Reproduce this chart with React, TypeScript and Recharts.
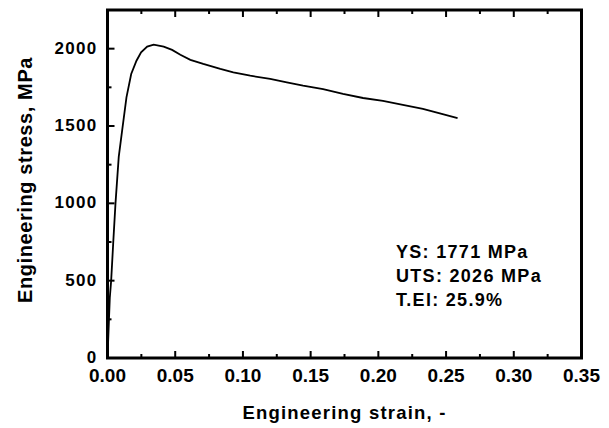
import { LineChart, Line, XAxis, YAxis, ReferenceArea } from "recharts";

// engineering stress-strain curve
const strain = [
  0, 0.0017, 0.0027, 0.0042, 0.0059, 0.0083, 0.0108, 0.014, 0.0175, 0.0214, 0.0248, 0.0293, 0.0341,
  0.0415, 0.0477, 0.0538, 0.0612, 0.0707, 0.0833, 0.0929, 0.1054, 0.1201, 0.1324, 0.1444, 0.1592,
  0.1739, 0.1887, 0.2034, 0.2181, 0.2329, 0.2454, 0.2585,
];
const stress = [
  0, 390, 500, 740, 1000, 1300, 1470, 1685, 1836, 1922, 1976, 2013, 2026, 2013, 1992, 1961, 1928,
  1901, 1869, 1847, 1825, 1804, 1782, 1761, 1739, 1707, 1681, 1663, 1637, 1610, 1581, 1551,
];

const xTicks = [0, 0.025, 0.05, 0.075, 0.1, 0.125, 0.15, 0.175, 0.2, 0.225, 0.25, 0.275, 0.3, 0.325, 0.35];
const yTicks = [0, 250, 500, 750, 1000, 1250, 1500, 1750, 2000];
const notes = ["YS: 1771 MPa", "UTS: 2026 MPa", "T.El: 25.9%"];

const data = strain.map((s, i) => ({ strain: s, stress: stress[i] }));

const FONT = "'Liberation Sans', Arial, sans-serif";
const isMajorX = (v: number) => Math.abs(v / 0.05 - Math.round(v / 0.05)) < 1e-6;
const isMajorY = (v: number) => v % 500 === 0;

// ticks point inward, majors longer than minors
function BottomTick({ x, y, payload }: any) {
  const major = isMajorX(payload.value);
  const len = major ? 7 : 4;
  return (
    <g>
      <rect x={x - 1} y={y - len} width={2} height={len} fill="#000" />
      {major && (
        <text x={x} y={y + 24} textAnchor="middle" fontFamily={FONT} fontWeight="bold" fontSize={19} fill="#000">
          {payload.value.toFixed(2)}
        </text>
      )}
    </g>
  );
}

function TopTick({ x, y, payload }: any) {
  const len = isMajorX(payload.value) ? 7 : 4;
  return <rect x={x - 1} y={y} width={2} height={len} fill="#000" />;
}

function LeftTick({ x, y, payload }: any) {
  const major = isMajorY(payload.value);
  const len = major ? 7 : 4;
  return (
    <g>
      <rect x={x} y={y - 1} width={len} height={2} fill="#000" />
      {major && (
        <text x={x - 10} y={y + 5} textAnchor="end" fontFamily={FONT} fontWeight="bold" fontSize={17} letterSpacing={1.3} fill="#000">
          {payload.value}
        </text>
      )}
    </g>
  );
}

function RightTick({ x, y, payload }: any) {
  const len = isMajorY(payload.value) ? 7 : 4;
  return <rect x={x - len} y={y - 1} width={len} height={2} fill="#000" />;
}

export default function App() {
  return (
    <div style={{ position: "absolute", left: 0, top: 0, width: 609, height: 428, background: "#fff" }}>
      <LineChart width={609} height={428} data={data} margin={{ top: 9, right: 26.5, bottom: 40, left: 47.5 }}>
        <XAxis
          dataKey="strain"
          type="number"
          domain={[0, 0.35]}
          ticks={xTicks}
          interval={0}
          height={30}
          axisLine={false}
          tickLine={false}
          tickSize={0}
          tickMargin={0}
          tick={<BottomTick />}
        />
        <XAxis
          xAxisId="top"
          orientation="top"
          dataKey="strain"
          type="number"
          domain={[0, 0.35]}
          ticks={xTicks}
          interval={0}
          height={1}
          axisLine={false}
          tickLine={false}
          tickSize={0}
          tickMargin={0}
          tick={<TopTick />}
        />
        <YAxis
          type="number"
          domain={[0, 2250]}
          ticks={yTicks}
          interval={0}
          width={60}
          axisLine={false}
          tickLine={false}
          tickSize={0}
          tickMargin={0}
          tick={<LeftTick />}
        />
        <YAxis
          yAxisId="right"
          orientation="right"
          type="number"
          domain={[0, 2250]}
          ticks={yTicks}
          interval={0}
          width={1}
          axisLine={false}
          tickLine={false}
          tickSize={0}
          tickMargin={0}
          tick={<RightTick />}
        />
        <Line
          type="linear"
          dataKey="stress"
          stroke="#000"
          strokeWidth={1.8}
          dot={false}
          isAnimationActive={false}
        />
        <ReferenceArea x1={0} x2={0.35} y1={0} y2={2250} fill="none" fillOpacity={0} stroke="#000" strokeWidth={3} />
      </LineChart>
      <svg
        width={609}
        height={428}
        style={{ position: "absolute", left: 0, top: 0, pointerEvents: "none" }}
        fontFamily={FONT}
        fontWeight="bold"
        fill="#000"
      >
        <text x={344.5} y={419} textAnchor="middle" fontSize={18.5} letterSpacing={1.2}>
          Engineering strain, -
        </text>
        <text x={32} y={180} textAnchor="middle" fontSize={20} letterSpacing={0.6} transform="rotate(-90 32 180)">
          Engineering stress, MPa
        </text>
        {notes.map((t, i) => (
          <text key={t} x={396} y={258 + i * 24} fontSize={18} letterSpacing={1.3}>
            {t}
          </text>
        ))}
      </svg>
    </div>
  );
}
